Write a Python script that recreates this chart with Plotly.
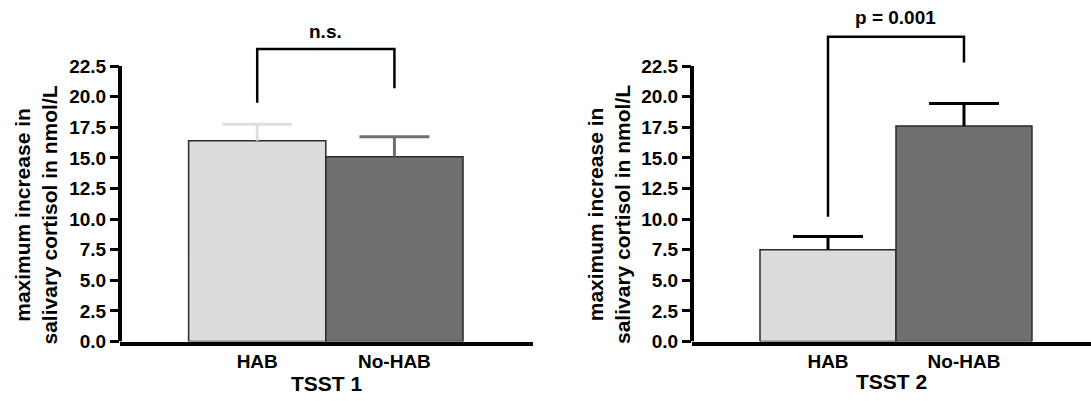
import plotly.graph_objects as go

# ---------------- data ----------------
groups = ["HAB", "No-HAB"]
tsst1_mean = [16.4, 15.1]
tsst1_sem = [1.35, 1.63]
tsst2_mean = [7.5, 17.6]
tsst2_sem = [1.08, 1.85]
y_ticks = [0, 2.5, 5, 7.5, 10, 12.5, 15, 17.5, 20, 22.5]
bracket1_y = [19.5, 23.9, 23.9, 20.7]
bracket2_y = [10.2, 24.9, 24.9, 22.8]
bracket_x = ["HAB", "HAB", "No-HAB", "No-HAB"]
label1 = "n.s."
label2 = "p = 0.001"
panel_titles = ["TSST 1", "TSST 2"]
y_title = "maximum increase in<br>salivary cortisol in nmol/L"

# ---------------- style ----------------
W, H = 1091, 401
FONT = "Liberation Sans, Arial, sans-serif"
fill_colors = ["#dcdcdc", "#707070"]
err_colors_1 = ["#dedede", "#6e6e6e"]
err_colors_2 = ["#000000", "#000000"]
px_per_unit = 12.24
y0_px = 341.5
y_top = y0_px / px_per_unit

fig = go.Figure()


def add_panel(means, sems, err_cols, xa, ya, bracket_y):
    for i, g in enumerate(groups):
        fig.add_trace(go.Bar(
            x=[g], y=[means[i]], xaxis=xa, yaxis=ya,
            marker=dict(color=fill_colors[i], line=dict(color="#2a2a2a", width=1.5)),
            error_y=dict(type="data", array=[sems[i]], arrayminus=[0], symmetric=False,
                         color=err_cols[i], thickness=3, width=0),
            showlegend=False, hoverinfo="skip",
        ))
        # cap of the error bar
        fig.add_trace(go.Scatter(
            x=[g], y=[means[i] + sems[i]], xaxis=xa, yaxis=ya, mode="markers",
            marker=dict(symbol="line-ew", size=50, color=err_cols[i],
                        line=dict(color=err_cols[i], width=3)),
            showlegend=False, hoverinfo="skip", cliponaxis=False,
        ))
    fig.add_trace(go.Scatter(
        x=bracket_x, y=bracket_y, xaxis=xa, yaxis=ya, mode="lines",
        line=dict(color="black", width=2.5),
        showlegend=False, hoverinfo="skip",
    ))


add_panel(tsst1_mean, tsst1_sem, err_colors_1, "x", "y", bracket1_y)
add_panel(tsst2_mean, tsst2_sem, err_colors_2, "x2", "y2", bracket2_y)

ydom = [(H - y0_px) / H, 1.0]
x1dom = [120 / W, 533 / W]
x2dom = [692 / W, 1.0]

TICK_FONT = dict(family=FONT, size=19, color="black", weight="bold")
TITLE_FONT = dict(family=FONT, size=21, color="black", weight="bold")

common_y = dict(
    range=[0, y_top], domain=ydom, tickvals=y_ticks, tickformat=".1f",
    showgrid=False, zeroline=False, showline=False, automargin=False,
    ticks="outside", ticklen=9, tickwidth=3, tickcolor="black",
    tickfont=TICK_FONT,
)
common_x = dict(
    type="category", showgrid=False, zeroline=False, showline=True,
    linecolor="black", linewidth=4, ticks="", automargin=False,
    tickfont=TICK_FONT,
    categoryorder="array", categoryarray=groups,
)

fig.update_layout(
    width=W, height=H,
    margin=dict(l=0, r=0, t=0, b=0, autoexpand=False),
    paper_bgcolor="white", plot_bgcolor="white",
    barmode="overlay", bargap=0,
    xaxis=dict(common_x, domain=x1dom, range=[-1.0, 2.01], anchor="y",
               title=dict(text=panel_titles[0], standoff=4, font=TITLE_FONT)),
    yaxis=dict(common_y, anchor="x"),
    xaxis2=dict(common_x, domain=x2dom, range=[-1.0, 1.934], anchor="y2",
                title=dict(text=panel_titles[1], standoff=4, font=TITLE_FONT)),
    yaxis2=dict(common_y, anchor="x2"),
)

# y axis lines only up to the top tick
for xr, yr in (("x domain", "y"), ("x2 domain", "y2")):
    fig.add_shape(type="line", xref=xr, yref=yr, x0=0, x1=0, y0=0, y1=y_ticks[-1],
                  line=dict(color="black", width=4), layer="above")

# y-axis titles
for xc in (35.5 / W, 609 / W):
    fig.add_annotation(
        text=y_title, xref="paper", yref="paper", x=xc, y=(H - 215) / H,
        xanchor="center", yanchor="middle", textangle=-90, showarrow=False,
        font=TITLE_FONT,
    )

# significance labels
fig.add_annotation(text=label1, xref="x", yref="y", x=0.5, y=bracket1_y[1] + 1.4,
                   showarrow=False, yanchor="middle", font=TICK_FONT)
fig.add_annotation(text=label2, xref="x2", yref="y2", x=0.5, y=bracket2_y[1] + 1.6,
                   showarrow=False, yanchor="middle", font=TICK_FONT)

fig.write_html("out.html", config={"displayModeBar": False, "staticPlot": True},
               post_script="document.body.style.margin='0';")
